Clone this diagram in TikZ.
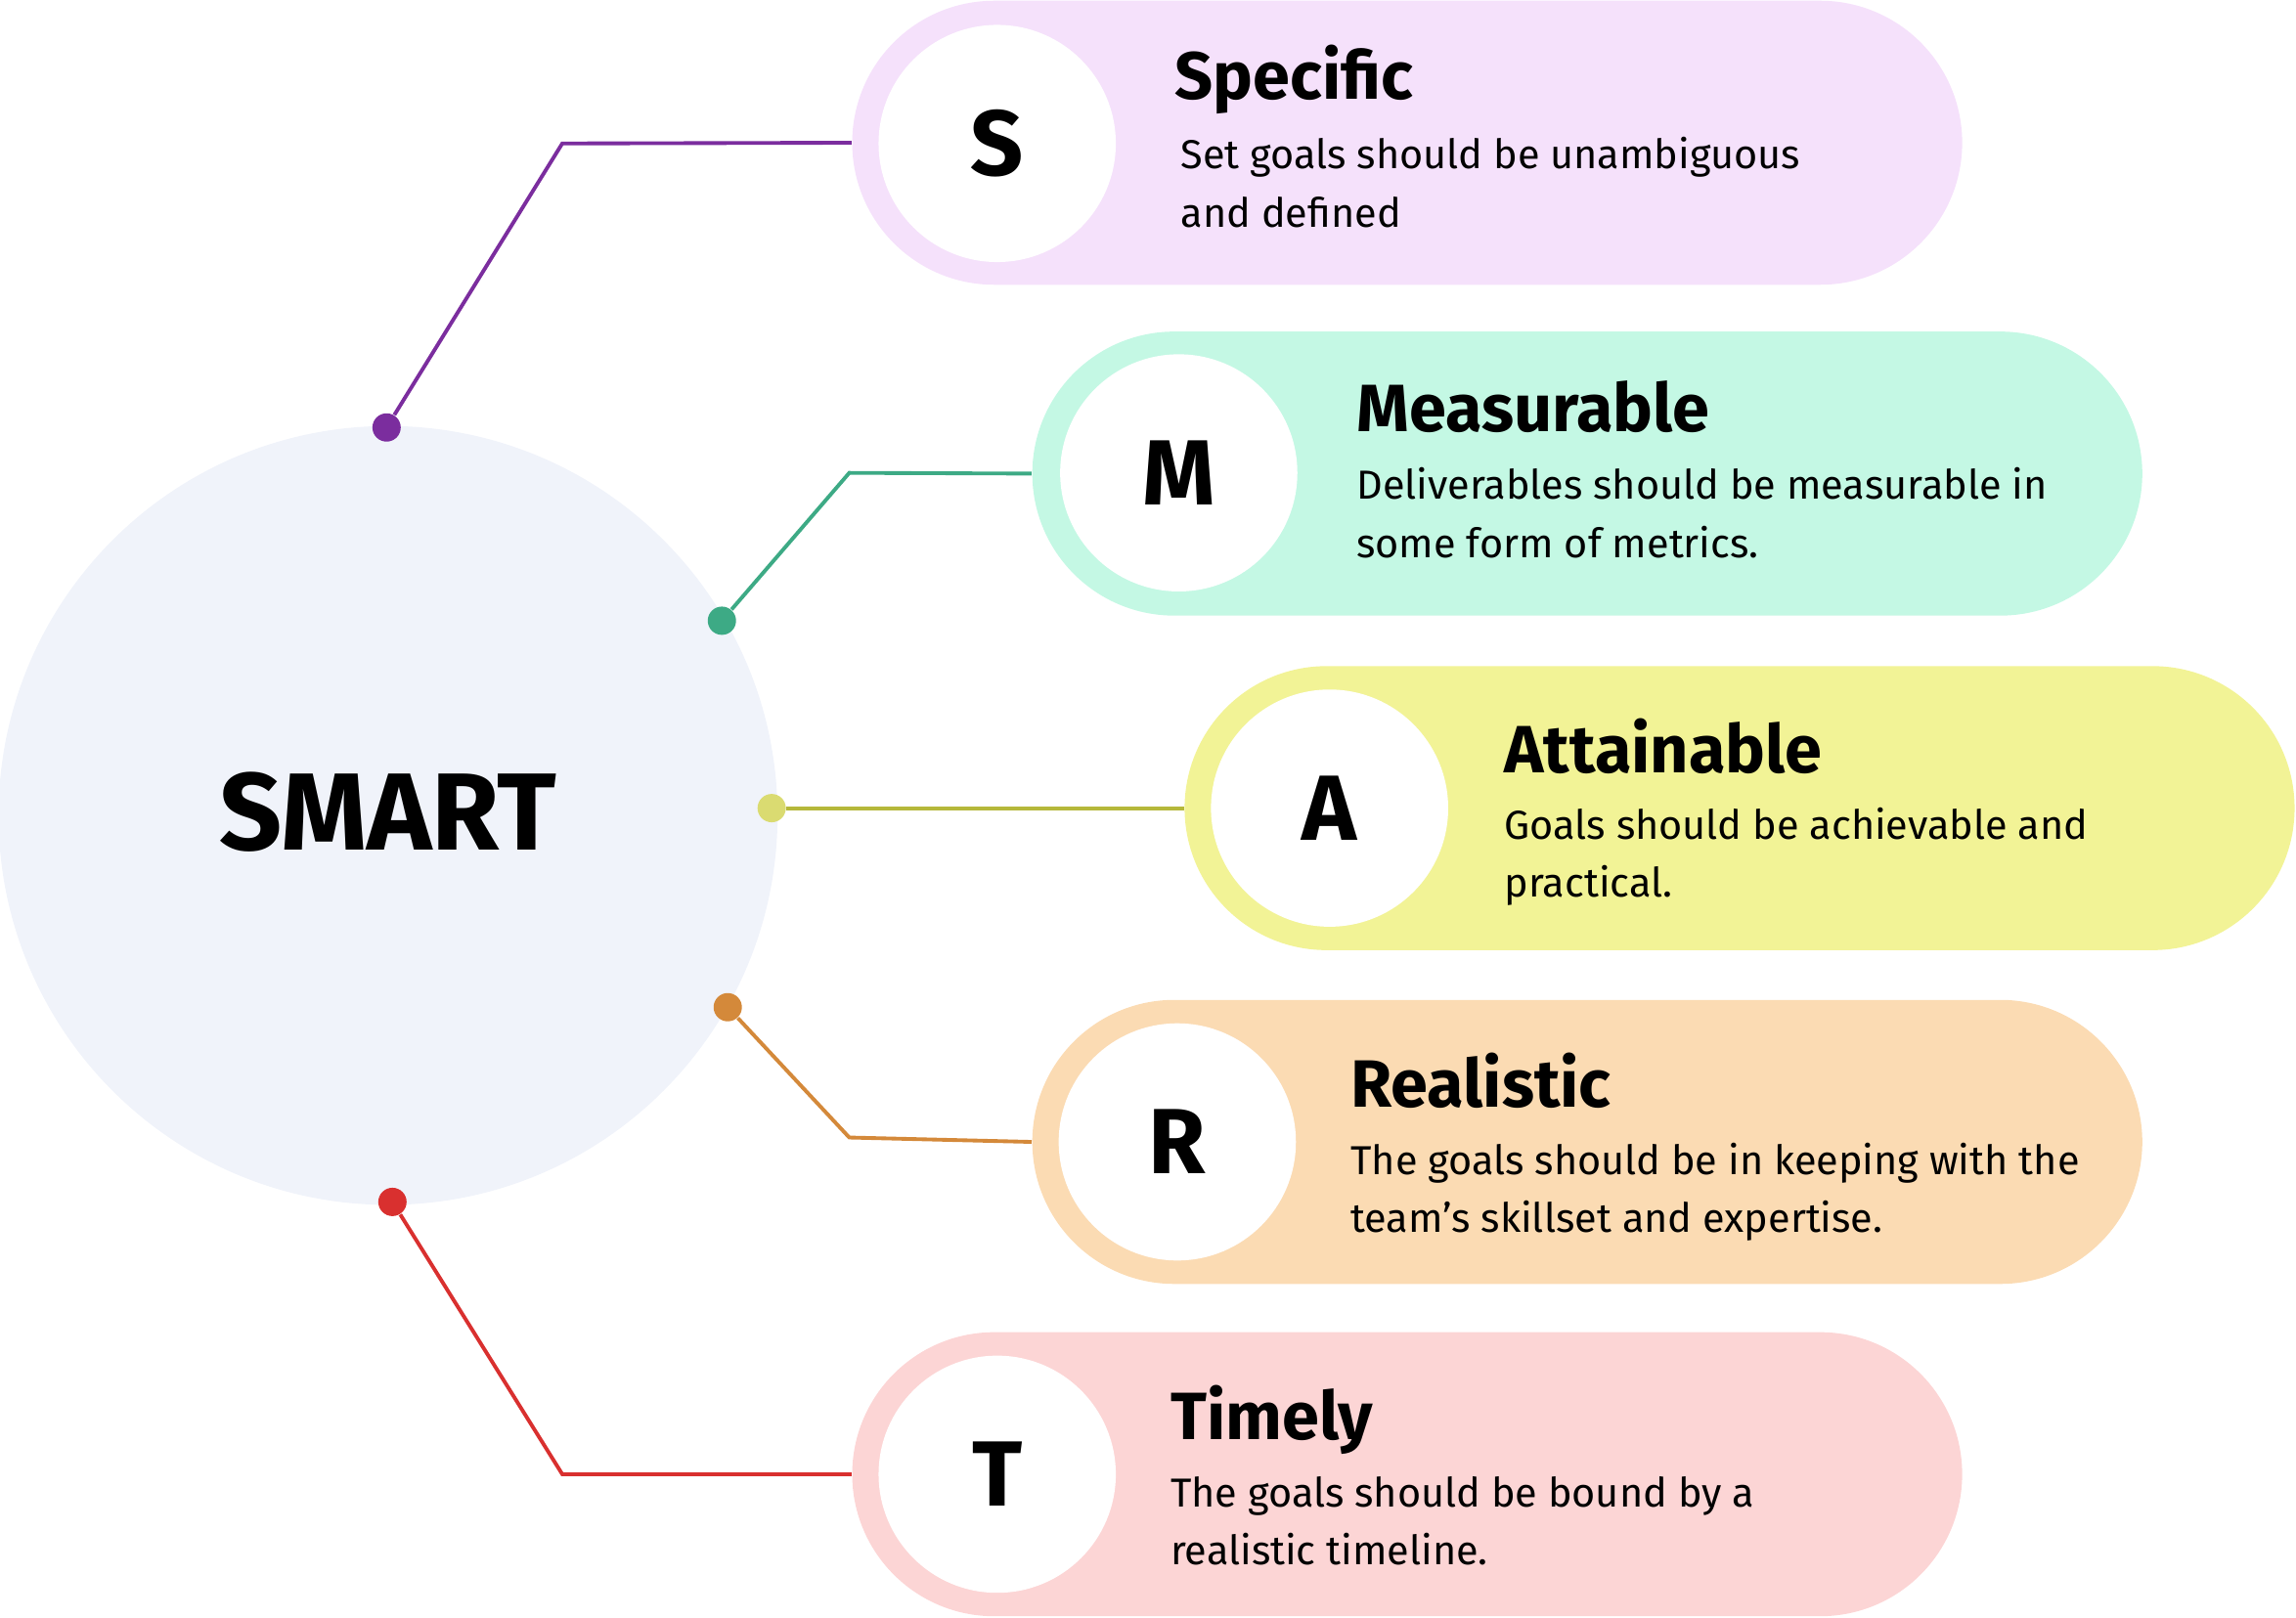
\documentclass[tikz,border=0pt]{standalone}
\usepackage{fontspec}
\setmainfont{Fira Sans}
\usetikzlibrary{positioning}
\definecolor{bigbg}{HTML}{F0F3FA}
\definecolor{sfill}{HTML}{F5E1FB}\definecolor{sline}{HTML}{7B2D9E}
\definecolor{mfill}{HTML}{C4F8E4}\definecolor{mline}{HTML}{3DAA85}
\definecolor{afill}{HTML}{F2F396}\definecolor{aline}{HTML}{B5B83A}
\definecolor{rfill}{HTML}{FBDBB3}\definecolor{rline}{HTML}{D4893A}
\definecolor{tfill}{HTML}{FCD5D5}\definecolor{tline}{HTML}{D9302F}
\begin{document}
\begin{tikzpicture}[x=0.015cm, y=-0.015cm,
    pill/.style={inner sep=0, minimum width=11.37cm, minimum height=2.91cm, rounded corners=1.455cm},
    letter/.style={circle, fill=white, inner sep=0, minimum size=2.43cm, font=\fontsize{27}{30}\selectfont\bfseries},
    title/.style={anchor=base west, inner sep=0, font=\fontsize{19.5}{24}\selectfont\bfseries},
    body/.style={anchor=base west, inner sep=0, align=left, font=\fontsize{11.8}{17}\selectfont},
    dot/.style={circle, fill=#1, inner sep=0, minimum size=0.29cm},
    link/.style={line width=1.1pt}]
  \useasboundingbox (0,0) rectangle (1568,1105);
  % centre
  \node[circle, fill=bigbg, inner sep=0, minimum size=7.98cm] (smart) at (265,557) {};
  \node[font=\fontsize{32}{36}\selectfont\bfseries] (smartlbl) at (265,555) {SMART};
  % boxes
  \node[pill, fill=sfill] (sbox) at (961,97.5) {};
  \node[pill, fill=mfill] (mbox) at (1084,323.5) {};
  \node[pill, fill=afill] (abox) at (1188,552) {};
  \node[pill, fill=rfill] (rbox) at (1084,780) {};
  \node[pill, fill=tfill] (tbox) at (961,1007) {};
  \node[letter] (s) at (681,98) {S};
  \node[letter] (m) at (805,323) {M};
  \node[letter] (a) at (908,552) {A};
  \node[letter] (r) at (804,780) {R};
  \node[letter] (t) at (681,1007) {T};
  % texts
  \node[title] (stitle) at (802,68) {Specific};
  \node[body] (stext) at (806,155) {Set goals should be unambiguous\\and defined};
  \node[title] (mtitle) at (926,295) {Measurable};
  \node[body] (mtext) at (926,381) {Deliverables should be measurable in\\some form of metrics.};
  \node[title] (atitle) at (1027,528) {Attainable};
  \node[body] (atext) at (1027,613) {Goals should be achievable and\\practical.};
  \node[title] (rtitle) at (922,756) {Realistic};
  \node[body] (rtext) at (922,842) {The goals should be in keeping with the\\team’s skillset and expertise.};
  \node[title] (ttitle) at (799,983) {Timely};
  \node[body] (ttext) at (799,1069) {The goals should be bound by a\\realistic timeline.};
  % connectors
  \coordinate (sbend) at (384,98);
  \coordinate (mbend) at (580,323);
  \coordinate (rbend) at (580,777);
  \coordinate (tbend) at (384,1007);
  \node[dot=sline] (sdot) at (264,292) {};
  \node[dot=mline] (mdot) at (493,424) {};
  \node[dot={afill!60!aline}] (adot) at (527,552) {};
  \node[dot=rline] (rdot) at (497,688) {};
  \node[dot=tline] (tdot) at (268,821) {};
  \draw[link, sline] (sdot) -- (sbend) -- (sbox.west);
  \draw[link, mline] (mdot) -- (mbend) -- (mbox.west);
  \draw[link, aline] (adot) -- (abox.west);
  \draw[link, rline] (rdot) -- (rbend) -- (rbox.west);
  \draw[link, tline] (tdot) -- (tbend) -- (tbox.west);
\end{tikzpicture}
\end{document}
